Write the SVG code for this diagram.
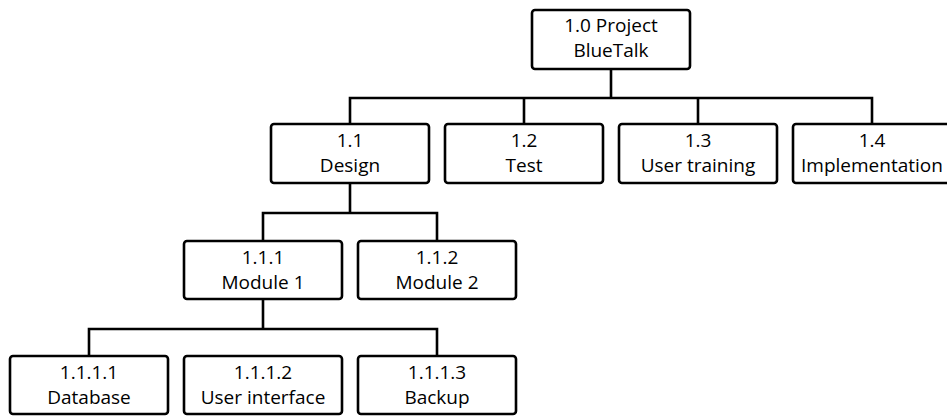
<svg xmlns="http://www.w3.org/2000/svg" width="947" height="416" viewBox="0 0 947 416">
  <style>
    .box { fill: #ffffff; stroke: #000000; stroke-width: 2.6; }
    .wire { fill: none; stroke: #000000; stroke-width: 2.6; }
    text { font-family: "Open Sans", "Noto Sans", "DejaVu Sans", sans-serif; font-size: 19px; fill: #000000; text-anchor: middle; }
  </style>
  <rect width="947" height="416" fill="#ffffff"/>

  <!-- connectors -->
  <g id="connectors">
    <path class="wire" d="M611 69 V98 M350 124 V98 H872 V124 M524 98 V124 M698 98 V124"/>
    <path class="wire" d="M350 183 V213 M263 241 V213 H437 V241"/>
    <path class="wire" d="M263 299 V329 M89 356 V329 H437 V356"/>
  </g>

  <!-- work packages -->
  <g id="n1_0">
    <rect class="box" x="532" y="10" width="158" height="59" rx="3"/>
    <text x="611" y="32">1.0 Project</text>
    <text x="611" y="57">BlueTalk</text>
  </g>
  <g id="n1_1">
    <rect class="box" x="271" y="124" width="158" height="59" rx="3"/>
    <text x="350" y="147">1.1</text>
    <text x="350" y="172">Design</text>
  </g>
  <g id="n1_2">
    <rect class="box" x="445" y="124" width="158" height="59" rx="3"/>
    <text x="524" y="147">1.2</text>
    <text x="524" y="172">Test</text>
  </g>
  <g id="n1_3">
    <rect class="box" x="619" y="124" width="158" height="59" rx="3"/>
    <text x="698" y="147">1.3</text>
    <text x="698" y="172">User training</text>
  </g>
  <g id="n1_4">
    <rect class="box" x="793" y="124" width="158" height="59" rx="3"/>
    <text x="872" y="147">1.4</text>
    <text x="872" y="172">Implementation</text>
  </g>
  <g id="n1_1_1">
    <rect class="box" x="184" y="241" width="158" height="58" rx="3"/>
    <text x="263" y="264">1.1.1</text>
    <text x="263" y="289">Module 1</text>
  </g>
  <g id="n1_1_2">
    <rect class="box" x="358" y="241" width="158" height="58" rx="3"/>
    <text x="437" y="264">1.1.2</text>
    <text x="437" y="289">Module 2</text>
  </g>
  <g id="n1_1_1_1">
    <rect class="box" x="10" y="356" width="158" height="58" rx="3"/>
    <text x="89" y="379">1.1.1.1</text>
    <text x="89" y="404">Database</text>
  </g>
  <g id="n1_1_1_2">
    <rect class="box" x="184" y="356" width="158" height="58" rx="3"/>
    <text x="263" y="379">1.1.1.2</text>
    <text x="263" y="404">User interface</text>
  </g>
  <g id="n1_1_1_3">
    <rect class="box" x="358" y="356" width="158" height="58" rx="3"/>
    <text x="437" y="379">1.1.1.3</text>
    <text x="437" y="404">Backup</text>
  </g>
</svg>
